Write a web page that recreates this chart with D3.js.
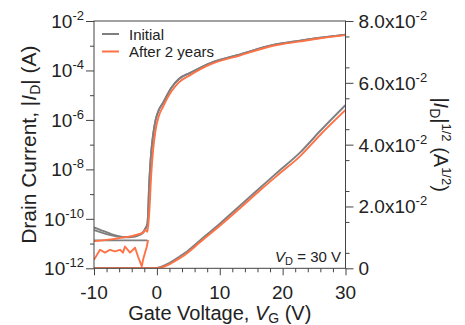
<!DOCTYPE html>
<html>
<head>
<meta charset="utf-8">
<script src="https://d3js.org/d3.v7.min.js"></script>
<style>
  body { margin: 0; background: #fff; }
  text { font-family: "Liberation Sans", Arial, sans-serif; fill: #222; }
</style>
</head>
<body>
<div class="chart"></div>
<script>
// ---- data ----
// sub-threshold (off) region, log plot
var vOff = [-10, -9, -8, -7, -6, -5, -4, -3, -2.2, -1.8]
var initOffA = [4.5e-11, 3.6e-11, 2.9e-11, 2.3e-11, 1.95e-11, 1.85e-11, 1.9e-11, 2.2e-11, 2.9e-11, 4.3e-11]
var initOffB = [3.5e-11, 2.9e-11, 2.4e-11, 2.1e-11, 1.9e-11, 1.8e-11, 1.85e-11, 2.1e-11, 2.7e-11, 4e-11]
var initOffFlat = [1.35e-11, 1.35e-11, 1.35e-11, 1.35e-11, 1.35e-11, 1.35e-11, 1.35e-11, 1.35e-11, 1.35e-11, 1.35e-11]
var afterOffA = [1.26e-11, 1.32e-11, 1.41e-11, 1.51e-11, 1.66e-11, 1.82e-11, 2e-11, 2.34e-11, 2.82e-11, 3.55e-11]
// noisy lower "after" trace
var vNoise = [-10, -9.05, -8.25, -7.46, -6.66, -5.86, -5.39, -5.07, -4.27, -3.47, -3.0, -2.4, -2.2, -1.6]
var afterNoise = [2.2e-12, 5.6e-12, 4.3e-12, 5.6e-12, 4.8e-12, 5.6e-12, 4.3e-12, 7.6e-12, 4.3e-12, 6.8e-12, 3e-12, 1.2e-12, 2.2e-12, 7.6e-12]
// on region, log plot
var vOn = [-1.5, -1.2, -0.9, -0.6, -0.2, 0.3, 1.0, 2.3, 3.5, 5.3, 8.5, 13.3, 18.5, 22.8, 26, 30]
var initOn = [6.3e-11, 3.2e-9, 5e-8, 2.5e-7, 1e-6, 2.5e-6, 5e-6, 2e-5, 4.5e-5, 8e-5, 2e-4, 4.5e-4, 1.07e-3, 1.6e-3, 2.1e-3, 2.8e-3]
var afterOn = [3e-11, 2e-10, 6e-9, 6e-8, 4e-7, 1.4e-6, 3.5e-6, 1.4e-5, 3.3e-5, 6.5e-5, 1.75e-4, 4.1e-4, 1e-3, 1.5e-3, 2e-3, 2.7e-3]
// |I_D|^1/2, right axis
var vSqrt = [-10, -0.8, 0.5, 1.8, 3, 4.5, 6.9, 10.1, 13.3, 16.5, 19.6, 22.8, 26, 30]
var initSqrt = [0, 0, 0.0004, 0.0015, 0.003, 0.005, 0.0091, 0.0146, 0.0204, 0.0262, 0.0318, 0.0375, 0.0445, 0.0528]
var afterSqrt = [0, 0, 0.0002, 0.0011, 0.0025, 0.0044, 0.0085, 0.0139, 0.0196, 0.0254, 0.0308, 0.0363, 0.0432, 0.0512]

var xTicks = [-10, 0, 10, 20, 30]
var yLogTicks = [-2, -4, -6, -8, -10, -12]
var yRightTicks = [0.08, 0.06, 0.04, 0.02, 0]
var yRightLabels = ['8.0', '6.0', '4.0', '2.0']
var legendNames = ['Initial', 'After 2 years']

var grey = '#7f7f7f'
var orange = '#ff7246'

var width = 465, height = 325
var mLeft = 94, mRight = 345.5, mTop = 21, mBottom = 268.3

var svg = d3.select('.chart').append('svg')
  .attr('width', width).attr('height', height)

var x = d3.scaleLinear().domain([-10, 30]).range([mLeft, mRight])
var yL = d3.scaleLog().domain([1e-12, 1e-2]).range([mBottom, mTop])
var yR = d3.scaleLinear().domain([0, 0.08]).range([mBottom, mTop])

function zip(vs, is) { return vs.map((v, i) => [v, is[i]]) }

var lineL = d3.line().x(d => x(d[0])).y(d => yL(d[1])).curve(d3.curveMonotoneX)
var lineLraw = d3.line().x(d => x(d[0])).y(d => yL(d[1]))
var lineR = d3.line().x(d => x(d[0])).y(d => yR(d[1])).curve(d3.curveMonotoneX)

svg.append('clipPath').attr('id', 'clip').append('rect')
  .attr('x', mLeft).attr('y', mTop - 1).attr('width', mRight - mLeft).attr('height', mBottom - mTop + 1)

var plot = svg.append('g').attr('clip-path', 'url(#clip)')
  .attr('fill', 'none').attr('stroke-width', 1.9).attr('stroke-linejoin', 'round')

// grey (initial)
plot.append('path').attr('d', lineR(zip(vSqrt, initSqrt))).attr('stroke', grey)
plot.append('path').attr('d', lineL(zip(vOff.concat(vOn), initOffA.concat(initOn)))).attr('stroke', grey)
plot.append('path').attr('d', lineL(zip(vOff.concat(vOn), initOffB.concat(initOn)))).attr('stroke', grey)
plot.append('path').attr('d', lineLraw(zip(vOff.concat([-1.55]), initOffFlat.concat([1.35e-11])))).attr('stroke', grey)
// orange (after 2 years)
plot.append('path').attr('d', lineR(zip(vSqrt, afterSqrt))).attr('stroke', orange)
plot.append('path').attr('d', lineL(zip(vOff.concat(vOn), afterOffA.concat(afterOn)))).attr('stroke', orange)
plot.append('path').attr('d', lineLraw(zip(vNoise.concat([-1.4]), afterNoise.concat([1.4e-11])))).attr('stroke', orange)

// axes
var axisCol = '#444'
function styleAxis(g) {
  g.select('.domain').remove()
  g.selectAll('line').attr('stroke', axisCol)
}
svg.append('g').attr('transform', `translate(${mLeft},0)`)
  .call(d3.axisLeft(yL).tickValues(yLogTicks.map(e => Math.pow(10, e))).tickSize(8).tickFormat(''))
  .call(styleAxis)
svg.append('g').attr('transform', `translate(${mLeft},0)`)
  .call(d3.axisLeft(yL).tickValues(d3.range(-11, -2, 2).map(e => Math.pow(10, e))).tickSize(4).tickFormat(''))
  .call(styleAxis)
svg.append('g').attr('transform', `translate(${mRight},0)`)
  .call(d3.axisRight(yR).tickValues(yRightTicks).tickSize(8).tickFormat(''))
  .call(styleAxis)
svg.append('g').attr('transform', `translate(${mRight},0)`)
  .call(d3.axisRight(yR).tickValues(d3.range(0.005, 0.08, 0.01)).tickSize(4).tickFormat(''))
  .call(styleAxis)
svg.append('g').attr('transform', `translate(0,${mBottom})`)
  .call(d3.axisBottom(x).tickValues(xTicks).tickSize(7).tickFormat(''))
  .call(styleAxis)
svg.append('g').attr('transform', `translate(0,${mBottom})`)
  .call(d3.axisBottom(x).tickValues(d3.range(-8, 30, 2).filter(v => v % 10 !== 0)).tickSize(4).tickFormat(''))
  .call(styleAxis)

svg.append('rect').attr('x', mLeft).attr('y', mTop).attr('width', mRight - mLeft).attr('height', mBottom - mTop)
  .attr('fill', 'none').attr('stroke', axisCol).attr('stroke-width', 1)

// tick labels
yLogTicks.forEach(e => {
  var t = svg.append('text').attr('x', mLeft - 10).attr('y', yL(Math.pow(10, e)) + 7)
    .attr('text-anchor', 'end').style('font-size', '19px')
  t.append('tspan').text('10')
  t.append('tspan').attr('dy', -8).style('font-size', '13px').text(e)
})
yRightTicks.forEach((v, i) => {
  var t = svg.append('text').attr('x', mRight + 13).attr('y', yR(v) + 7).style('font-size', '19px')
  if (v === 0) { t.text('0'); return }
  t.append('tspan').text(yRightLabels[i] + 'x10')
  t.append('tspan').attr('dy', -8).style('font-size', '13px').text('-2')
})
xTicks.forEach(v => {
  svg.append('text').attr('x', x(v)).attr('y', 298.5).attr('text-anchor', 'middle')
    .style('font-size', '19px').text(v)
})

// axis titles
var xt = svg.append('text').attr('x', (mLeft + mRight) / 2).attr('y', 320)
  .attr('text-anchor', 'middle').style('font-size', '20px')
xt.append('tspan').text('Gate Voltage, ')
xt.append('tspan').style('font-style', 'italic').text('V')
xt.append('tspan').attr('dy', 3).style('font-size', '14px').text('G')
xt.append('tspan').attr('dy', -3).text(' (V)')

var ylt = svg.append('text').attr('transform', `translate(36,${(mTop + mBottom) / 2}) rotate(-90)`)
  .attr('text-anchor', 'middle').style('font-size', '21px')
ylt.append('tspan').text('Drain Current, |')
ylt.append('tspan').style('font-style', 'italic').text('I')
ylt.append('tspan').attr('dy', 4).style('font-size', '14px').text('D')
ylt.append('tspan').attr('dy', -4).text('| (A)')

var yrt = svg.append('text').attr('transform', `translate(434,${(mTop + mBottom) / 2}) rotate(90)`)
  .attr('text-anchor', 'middle').style('font-size', '20px')
yrt.append('tspan').text('|')
yrt.append('tspan').style('font-style', 'italic').text('I')
yrt.append('tspan').attr('dy', 4).style('font-size', '14px').text('D')
yrt.append('tspan').attr('dy', -4).text('|')
yrt.append('tspan').attr('dy', -8).style('font-size', '13px').text('1/2')
yrt.append('tspan').attr('dy', 8).text(' (A')
yrt.append('tspan').attr('dy', -8).style('font-size', '13px').text('1/2')
yrt.append('tspan').attr('dy', 8).text(')')

// legend
var legend = svg.append('g')
legendNames.forEach((name, i) => {
  var yy = 34 + i * 17.5
  legend.append('line').attr('x1', 102).attr('x2', 119).attr('y1', yy).attr('y2', yy)
    .attr('stroke', i === 0 ? grey : orange).attr('stroke-width', 2)
  legend.append('text').attr('x', 129).attr('y', yy + 5.5).style('font-size', '15px').text(name)
})

// annotation
var vd = svg.append('text').attr('x', 341).attr('y', 262).attr('text-anchor', 'end').style('font-size', '15px')
vd.append('tspan').style('font-style', 'italic').text('V')
vd.append('tspan').attr('dy', 3).style('font-size', '11px').text('D')
vd.append('tspan').attr('dy', -3).text(' = 30 V')
</script>
</body>
</html>
